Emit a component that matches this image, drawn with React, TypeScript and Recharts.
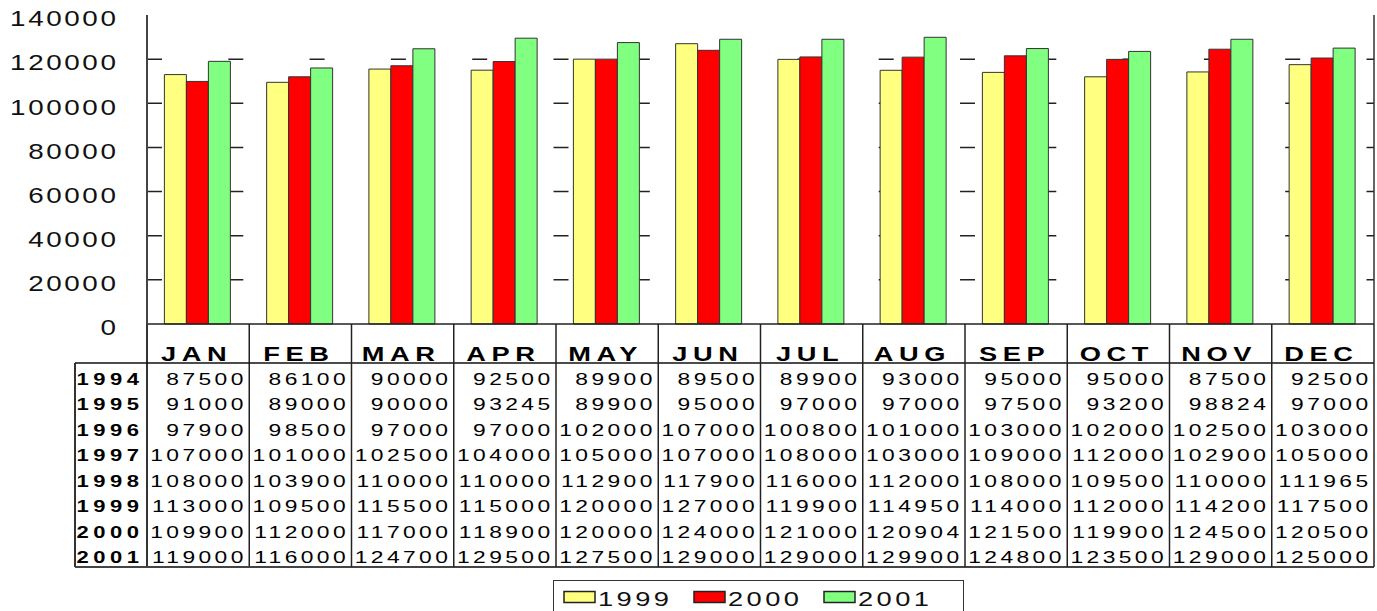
import { BarChart, Bar, XAxis, YAxis, CartesianGrid } from 'recharts'

const MONTHS = ['JAN', 'FEB', 'MAR', 'APR', 'MAY', 'JUN', 'JUL', 'AUG', 'SEP', 'OCT', 'NOV', 'DEC']
const Y1994 = [87500, 86100, 90000, 92500, 89900, 89500, 89900, 93000, 95000, 95000, 87500, 92500]
const Y1995 = [91000, 89000, 90000, 93245, 89900, 95000, 97000, 97000, 97500, 93200, 98824, 97000]
const Y1996 = [97900, 98500, 97000, 97000, 102000, 107000, 100800, 101000, 103000, 102000, 102500, 103000]
const Y1997 = [107000, 101000, 102500, 104000, 105000, 107000, 108000, 103000, 109000, 112000, 102900, 105000]
const Y1998 = [108000, 103900, 110000, 110000, 112900, 117900, 116000, 112000, 108000, 109500, 110000, 111965]
const Y1999 = [113000, 109500, 115500, 115000, 120000, 127000, 119900, 114950, 114000, 112000, 114200, 117500]
const Y2000 = [109900, 112000, 117000, 118900, 120000, 124000, 121000, 120904, 121500, 119900, 124500, 120500]
const Y2001 = [119000, 116000, 124700, 129500, 127500, 129000, 129000, 129900, 124800, 123500, 129000, 125000]
const ROW_YEARS = ['1994', '1995', '1996', '1997', '1998', '1999', '2000', '2001']
const Y_TICKS = [0, 20000, 40000, 60000, 80000, 100000, 120000, 140000]

const TABLE_ROWS = [Y1994, Y1995, Y1996, Y1997, Y1998, Y1999, Y2000, Y2001]
const SERIES = [
  { key: '1999', color: '#FFFF80' },
  { key: '2000', color: '#FF0000' },
  { key: '2001', color: '#80FF80' },
]

const data = MONTHS.map((m, i) => ({ month: m, '1999': Y1999[i], '2000': Y2000[i], '2001': Y2001[i] }))

const FONT = '"Liberation Sans", Arial, sans-serif'
const PLOT_LEFT = 147
const PLOT_RIGHT = 1374
const COL_W = (PLOT_RIGHT - PLOT_LEFT) / MONTHS.length
const TABLE_LEFT = 75
const HEADER_H = 39
const ROW_H = 25.5

// the original font is drawn stretched sideways, so text is scaled on x
const SText = ({ x, y, sx = 1.35, ls = 0, children, ...rest }: any) => (
  <text transform={`scale(${sx} 1)`} x={x / sx} y={y} letterSpacing={ls / sx} fontFamily={FONT} fill="#000" {...rest}>
    {children}
  </text>
)

const YTick = (p: any) => (
  <SText x={118.5} y={p.y + 11.3} textAnchor="end" fontSize={21.4} sx={1.3} ls={2.6} fill="#111">
    {p.payload.value}
  </SText>
)

const TableTick = (p: any) => {
  const { x, y, index } = p
  const top = y
  const headLine = top + HEADER_H
  const bottom = headLine + ROW_H * ROW_YEARS.length
  const right = x + COL_W / 2
  return (
    <g>
      <SText x={x - 1.5} y={top + 37.5} textAnchor="middle" fontWeight="bold" fontSize={20.5} sx={1.33} ls={5.5}>
        {p.payload.value}
      </SText>
      <line x1={right} x2={right} y1={top} y2={bottom} stroke="#222" strokeWidth={1.5} />
      {TABLE_ROWS.map((row, r) => (
        <SText key={r} x={right - 2.5} y={headLine + ROW_H * (r + 1) - 3.5} textAnchor="end" fontSize={16.3} sx={1.4} ls={3.4}>
          {row[index]}
        </SText>
      ))}
      {index === 0 && (
        <g>
          <line x1={x - COL_W / 2} x2={x - COL_W / 2} y1={top} y2={bottom} stroke="#333" strokeWidth={2} />
          <line x1={TABLE_LEFT} x2={TABLE_LEFT} y1={headLine} y2={bottom} stroke="#333" strokeWidth={2} />
          <line x1={TABLE_LEFT} x2={PLOT_RIGHT} y1={headLine} y2={headLine} stroke="#111" strokeWidth={1.5} />
          <line x1={TABLE_LEFT} x2={PLOT_RIGHT} y1={bottom} y2={bottom} stroke="#444" strokeWidth={2} />
          {ROW_YEARS.map((yr, r) => (
            <SText key={yr} x={143.5} y={headLine + ROW_H * (r + 1) - 3.5} textAnchor="end" fontWeight="bold" fontSize={16.3} sx={1.35} ls={4.5}>
              {yr}
            </SText>
          ))}
        </g>
      )}
    </g>
  )
}

const Legend = () => (
  <div style={{ position: 'absolute', left: 553, top: 580, width: 409, height: 40, border: '1.5px solid #333', background: '#fff' }}>
    <svg width={409} height={40} style={{ display: 'block' }}>
      {SERIES.map((s, i) => (
        <g key={s.key}>
          <rect x={10 + i * 130} y={10.5} width={31} height={11} fill={s.color} stroke="#222" strokeWidth={1.5} />
          <SText x={44 + i * 130} y={25.5} fontSize={21} sx={1.3} ls={3.4} fill="#111">
            {s.key}
          </SText>
        </g>
      ))}
    </svg>
  </div>
)

export default function App() {
  return (
    <div style={{ position: 'absolute', left: 0, top: 0, width: 1377, height: 611, overflow: 'hidden', background: '#fff' }}>
      <BarChart width={1377} height={611} data={data} margin={{ top: 15, right: 0, left: 0, bottom: 44 }} barCategoryGap="17%" barGap={0}>
        <CartesianGrid vertical={false} horizontalValues={[20000, 40000, 60000, 80000, 100000, 120000]} stroke="#222" strokeWidth={1.5} strokeDasharray="15 66.3" />
        <XAxis dataKey="month" height={243} interval={0} tickLine={false} tickSize={0} tickMargin={0} axisLine={{ stroke: '#222', strokeWidth: 1.5 }} tick={(p: any) => <TableTick {...p} />} />
        <XAxis xAxisId="top" dataKey="month" orientation="top" height={0} tick={false} tickLine={false} axisLine={{ stroke: '#333', strokeWidth: 1.5 }} />
        <YAxis width={147} domain={[0, 140000]} ticks={Y_TICKS} interval={0} tickLine={false} axisLine={{ stroke: '#444', strokeWidth: 2 }} tick={(p: any) => <YTick {...p} />} />
        <YAxis yAxisId="r" orientation="right" width={3} domain={[0, 140000]} ticks={Y_TICKS} interval={0} tickSize={3} tickLine={{ stroke: '#222' }} axisLine={{ stroke: '#333', strokeWidth: 1.5 }} tick={() => <g />} />
        {SERIES.map((s) => (
          <Bar key={s.key} dataKey={s.key} fill={s.color} stroke="#333" strokeWidth={1} isAnimationActive={false} />
        ))}
      </BarChart>
      <Legend />
    </div>
  )
}
